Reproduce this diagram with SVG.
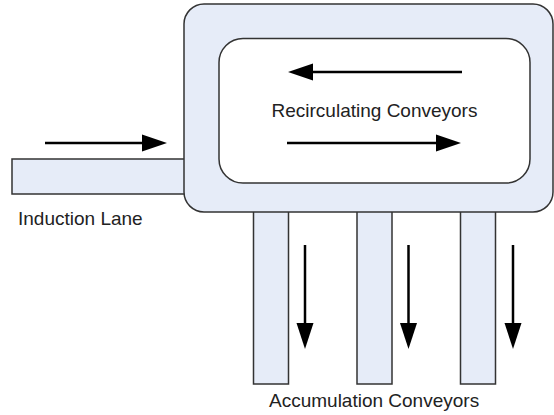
<svg xmlns="http://www.w3.org/2000/svg" width="554" height="415" viewBox="0 0 554 415">
<defs>
<style>
.box{fill:#e6ecf8;stroke:#333;stroke-width:1.5}
.inner{fill:#fff;stroke:#333;stroke-width:1.5}
.arr{stroke:#000;stroke-width:2.5;fill:none}
.head{fill:#000}
.lbl{font-family:"Liberation Sans",Arial,sans-serif;font-size:19px;fill:#222}
</style>
</defs>
<rect width="554" height="415" fill="#fff"/>
<g id="induction-lane">
<rect class="box" x="12" y="159" width="174" height="35"/>
</g>
<g id="acc1"><rect class="box" x="253.5" y="205" width="35" height="179"/></g>
<g id="acc2"><rect class="box" x="357" y="205" width="35" height="179"/></g>
<g id="acc3"><rect class="box" x="460.5" y="205" width="35" height="179"/></g>
<g id="recirc-outer">
<rect class="box" x="184" y="4" width="369" height="208" rx="20" ry="20"/>
</g>
<g id="recirc-inner">
<rect class="inner" x="219" y="38.5" width="311" height="144.5" rx="24" ry="24"/>
<text class="lbl" x="374.5" y="117" text-anchor="middle">Recirculating Conveyors</text>
</g>
<g id="connectors">
<line class="arr" x1="45" y1="143" x2="145" y2="143"/>
<polygon class="head" points="167,143 142,134.5 142,151.5"/>
<line class="arr" x1="462" y1="72" x2="310" y2="72"/>
<polygon class="head" points="288,72 313,63.5 313,80.5"/>
<line class="arr" x1="287" y1="143" x2="440" y2="143"/>
<polygon class="head" points="461,143 436,134.5 436,151.5"/>
<line class="arr" x1="305" y1="245" x2="305" y2="326"/>
<polygon class="head" points="305,349 296.5,323 313.5,323"/>
<line class="arr" x1="408.5" y1="245" x2="408.5" y2="326"/>
<polygon class="head" points="408.5,349 400,323 417,323"/>
<line class="arr" x1="513" y1="245" x2="513" y2="326"/>
<polygon class="head" points="513,349 504.5,323 521.5,323"/>
</g>
<text class="lbl" x="18" y="225">Induction Lane</text>
<text class="lbl" x="269" y="407">Accumulation Conveyors</text>
</svg>
